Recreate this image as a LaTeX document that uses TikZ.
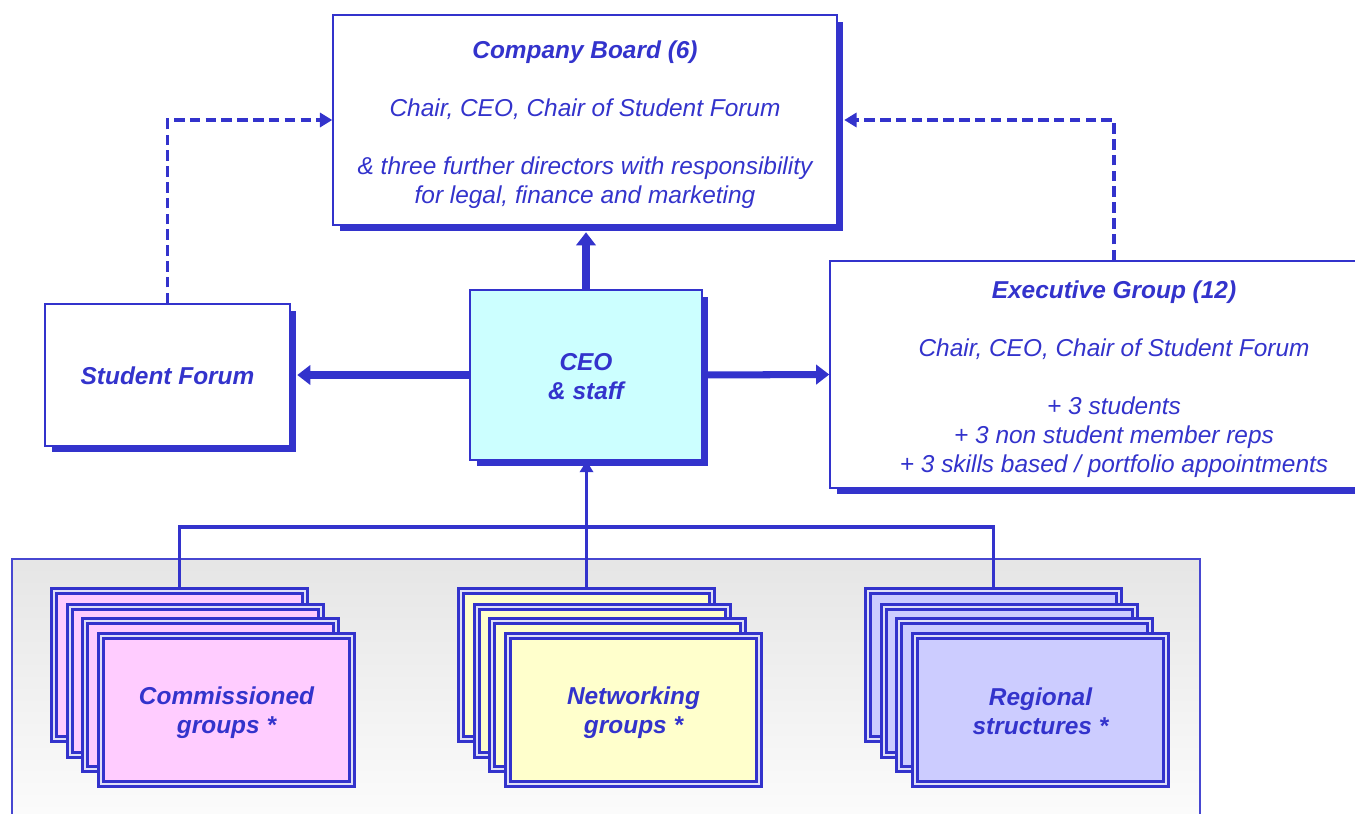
\documentclass[tikz,border=0pt]{standalone}
\usepackage{fontspec}
\setmainfont{Liberation Sans}
\usetikzlibrary{arrows.meta,shadows}
\definecolor{bl}{RGB}{51,51,204}
\definecolor{ceofill}{RGB}{204,255,255}
\definecolor{pinkf}{RGB}{255,204,255}
\definecolor{yelf}{RGB}{255,255,204}
\definecolor{lavf}{RGB}{204,204,255}
\pgfdeclarelayer{bg}
\pgfdeclarelayer{mid}
\pgfsetlayers{bg,mid,main}
\newcommand{\uprule}[1]{\rule{0pt}{#1}}
\begin{document}
\begin{tikzpicture}[x=0.02cm,y=-0.02cm,
  txt/.style={text=bl, font=\fontsize{13.9}{16.5}\selectfont\itshape, align=center},
  bold/.style={font=\fontsize{13.9}{16.5}\selectfont\bfseries\itshape},
  box/.style={txt, draw=bl, line width=0.9pt, fill=white, inner sep=0pt,
    drop shadow={shadow xshift=3.7pt, shadow yshift=-3.7pt, fill=bl, opacity=1}},
  card/.style={txt, bold, draw=bl, line width=1.7pt, double=white!85!bl, double distance=0.8pt,
    minimum width=5.02cm, minimum height=2.96cm, inner sep=0pt},
  thickarrow/.style={draw=bl, line width=4pt, -{Triangle[length=7.5pt,width=11pt]}},
  dasharrow/.style={draw=bl, line width=1.8pt, dash pattern=on 6pt off 3pt,
    -{Triangle[length=7pt,width=8pt]}},
  conn/.style={draw=bl, line width=2pt},
]
\useasboundingbox (0,0) rectangle (1355,814);
\clip (0,0) rectangle (1355,814);

% background panel
\begin{pgfonlayer}{bg}
  \shade[top color=gray!20, bottom color=gray!3] (12,559) rectangle (1200,814);
  \draw[bl!90!white, line width=0.9pt] (12,814) -- (12,559) -- (1200,559) -- (1200,814);
\end{pgfonlayer}

% main boxes
\node[box, minimum width=10.08cm, minimum height=4.2cm] (cb) at (585,120)
  {\uprule{15.8pt}{\bfseries Company Board (6)}\\[16.5pt]
   Chair, CEO, Chair of Student Forum\\[16.5pt]
   \& three further directors with responsibility\\
   for legal, finance and marketing};
\node[box, bold, minimum width=4.9cm, minimum height=2.84cm] (sf) at (167.5,375) {\uprule{11.5pt}Student Forum};
\node[box, bold, fill=ceofill, minimum width=4.64cm, minimum height=3.4cm] (ceo) at (586,375) {\uprule{11.2pt}CEO\\ \& staff};
\node[box, minimum width=11.36cm, minimum height=4.54cm] (eg) at (1114,374.5)
  {\uprule{15.8pt}{\bfseries Executive Group (12)}\\[16.5pt]
   Chair, CEO, Chair of Student Forum\\[16.5pt]
   + 3 students\\
   + 3 non student member reps\\
   + 3 skills based / portfolio appointments};

% stacked group cards
\node[card, fill=pinkf] (c1) at (179.5,665) {};
\node[card, fill=pinkf] (c2) at (195.5,681) {};
\node[card, fill=pinkf] (c3) at (210.5,695) {};
\node[card, fill=pinkf] (c4) at (226.5,710) {\uprule{13.5pt}Commissioned\\groups *};

\node[card, fill=yelf] (n1) at (586.5,665) {};
\node[card, fill=yelf] (n2) at (602.5,681) {};
\node[card, fill=yelf] (n3) at (617.5,695) {};
\node[card, fill=yelf] (n4) at (633.5,710) {\uprule{13.5pt}Networking\\groups *};

\node[card, fill=lavf] (r1) at (993.5,665) {};
\node[card, fill=lavf] (r2) at (1009.5,681) {};
\node[card, fill=lavf] (r3) at (1024.5,695) {};
\node[card, fill=lavf] (r4) at (1040.5,710) {\uprule{11pt}Regional\\structures *};

% helper coordinates at shadow edges
\coordinate (cbsh) at ([shift={(3.7pt,-3.7pt)}]cb.south east);
\coordinate (sfsh) at ([shift={(3.7pt,-3.7pt)}]sf.south east);
\coordinate (bus) at (586,527);

% connectors
\begin{pgfonlayer}{mid}
  \draw[conn] (c1.north) |- (bus) -| (r1.north);
  \draw[conn, -{Triangle[length=6.5pt,width=7.5pt]}] (n1.north) -- (n1.north |- ceo.south);
  \draw[thickarrow] (ceo.north) -- (ceo.north |- cbsh);
  \draw[thickarrow] (ceo.west) -- (ceo.west -| sfsh);
  \draw[thickarrow] (ceo.east) -- (eg.west);
  \draw[dasharrow] (sf.north) |- (cb.west);
  \draw[dasharrow] (eg.north) |- (cb.east -| cbsh);
\end{pgfonlayer}
\end{tikzpicture}
\end{document}
